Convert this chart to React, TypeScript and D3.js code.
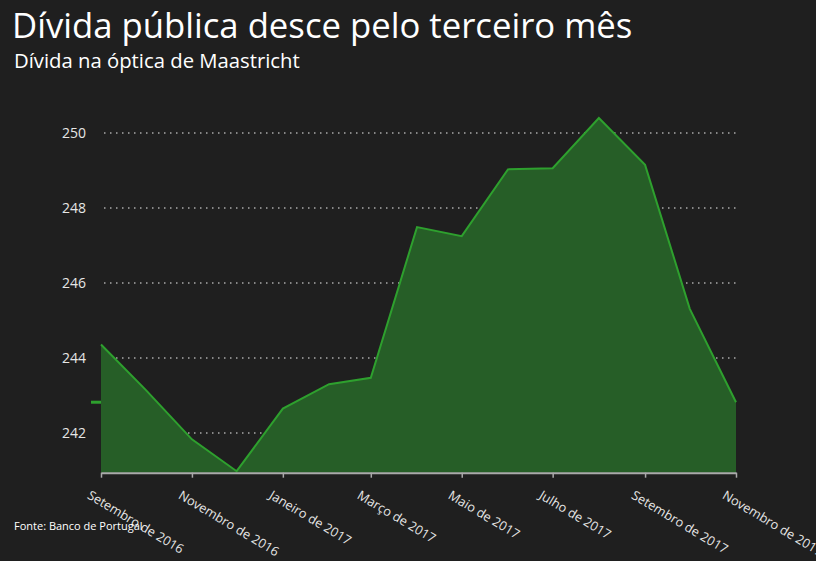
import React, { useEffect, useRef } from 'react';
import * as d3 from 'd3';

// monthly values, set 2016 .. nov 2017 (mil milhões de euros)
const months = [
  '2016-09', '2016-10', '2016-11', '2016-12', '2017-01', '2017-02', '2017-03', '2017-04',
  '2017-05', '2017-06', '2017-07', '2017-08', '2017-09', '2017-10', '2017-11',
];
const debt = [
  244.36, 243.15, 241.83, 240.98, 242.65, 243.3, 243.47, 247.49,
  247.25, 249.03, 249.06, 250.4, 249.15, 245.31, 242.82,
];
const yTicks = [242, 244, 246, 248, 250];
const xTickLabels = [
  'Setembro de 2016', 'Novembro de 2016', 'Janeiro de 2017', 'Março de 2017',
  'Maio de 2017', 'Julho de 2017', 'Setembro de 2017', 'Novembro de 2017',
];

const W = 816;
const H = 561;
const FONT = '"Open Sans", Lato, sans-serif';

const Chart: React.FC = () => {
  const svgRef = useRef<SVGSVGElement>(null);

  useEffect(() => {
    const parse = d3.timeParse('%Y-%m');
    const data = months.map((m, i) => ({ date: parse(m) as Date, value: debt[i] }));

    const svg = d3.select(svgRef.current);
    svg.selectAll('*').remove();

    const x = d3.scaleTime()
      .domain(d3.extent(data, d => d.date) as [Date, Date])
      .range([101, 736]);

    const y = d3.scaleLinear()
      .domain([240.94, 251])
      .range([472.7, 95.5]);

    // title
    svg.append('text')
      .attr('x', 12).attr('y', 38)
      .attr('fill', '#fff')
      .style('font-family', FONT)
      .style('font-size', '34.7px')
      .text('Dívida pública desce pelo terceiro mês');

    svg.append('text')
      .attr('x', 14).attr('y', 67.5)
      .attr('fill', '#fff')
      .style('font-family', FONT)
      .style('font-size', '20.3px')
      .text('Dívida na óptica de Maastricht');

    // grid
    const grid = svg.append('g');
    grid.selectAll('line')
      .data(yTicks)
      .enter()
      .append('line')
      .attr('x1', 104).attr('x2', 737)
      .attr('y1', d => y(d)).attr('y2', d => y(d))
      .attr('stroke', '#aaa')
      .attr('stroke-width', 1.5)
      .attr('stroke-dasharray', '1.5,4.5');

    grid.selectAll('text')
      .data(yTicks)
      .enter()
      .append('text')
      .attr('x', 86)
      .attr('y', d => y(d) + 5)
      .attr('text-anchor', 'end')
      .attr('fill', '#e6e6e6')
      .style('font-family', FONT)
      .style('font-size', '14px')
      .text(d => d);

    // area + line
    const area = d3.area<{ date: Date; value: number }>()
      .x(d => x(d.date))
      .y0(y(240.94))
      .y1(d => y(d.value));

    const line = d3.line<{ date: Date; value: number }>()
      .x(d => x(d.date))
      .y(d => y(d.value));

    svg.append('path')
      .datum(data)
      .attr('d', area)
      .attr('fill', '#265e27');

    svg.append('path')
      .datum(data)
      .attr('d', line)
      .attr('fill', 'none')
      .attr('stroke', '#2ea02e')
      .attr('stroke-width', 2);

    // latest value marker
    const last = data[data.length - 1];
    svg.append('line')
      .attr('x1', 91).attr('x2', 101)
      .attr('y1', y(last.value)).attr('y2', y(last.value))
      .attr('stroke', '#2ea02e')
      .attr('stroke-width', 3);

    // x axis
    const tickDates = d3.timeMonth.every(2)!.range(data[0].date, d3.timeDay.offset(last.date, 1));
    const xAxis = svg.append('g')
      .attr('transform', `translate(0,${y(240.94)})`)
      .call(d3.axisBottom(x).tickValues(tickDates).tickSize(5).tickSizeOuter(0).tickFormat((_, i) => xTickLabels[i]));

    xAxis.select('.domain').attr('stroke', '#aaa').attr('stroke-width', 2);
    xAxis.selectAll('.tick line').attr('stroke', '#aaa').attr('stroke-width', 1.5);
    xAxis.selectAll('.tick text')
      .attr('fill', '#e6e6e6')
      .style('font-family', FONT)
      .style('font-size', '12.8px')
      .attr('text-anchor', 'start')
      .attr('x', 0).attr('y', 0).attr('dy', 0)
      .attr('transform', 'translate(-15,25) rotate(31)');

    // source
    svg.append('text')
      .attr('x', 14).attr('y', 530)
      .attr('fill', '#fff')
      .style('font-family', FONT)
      .style('font-size', '11px')
      .text('Fonte: Banco de Portugal');
  }, []);

  return <svg ref={svgRef} width={W} height={H} style={{ display: 'block', background: '#1f1f1f' }}></svg>;
};

const App: React.FC = () => {
  useEffect(() => {
    document.body.style.margin = '0';
    document.body.style.background = '#1f1f1f';
    document.body.style.overflow = 'hidden';
  }, []);
  return <Chart />;
};

export default App;
